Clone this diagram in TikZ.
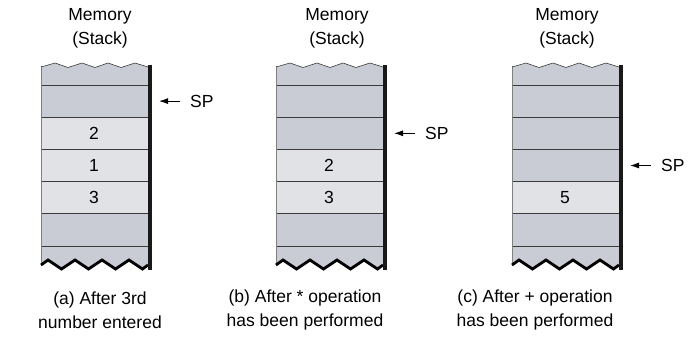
\documentclass[tikz,border=0pt]{standalone}
\usepackage{fontspec}
\setmainfont{Liberation Sans}
\usetikzlibrary{arrows.meta}
\definecolor{cellgray}{HTML}{C9CCD4}
\definecolor{celllight}{HTML}{E1E2E6}
\definecolor{rowline}{HTML}{3A3A3A}
\begin{document}
\begin{tikzpicture}[x=1pt,y=-1pt,font=\fontsize{17.5}{24}\selectfont,
    rowrule/.style={rowline,line width=1pt},
    topwave/.style={rowline,line width=0.6pt},
    botwave/.style={black,line width=2.8pt,line join=miter},
    spine/.style={black!90,line width=3.6pt},
    leftedge/.style={gray,line width=0.9pt},
    splabel/.style={anchor=west,inner xsep=10pt,inner ysep=0pt},
    sparrow/.style={-{Latex[length=9pt,width=6pt]},line width=1pt}]
  \useasboundingbox (0,0) rectangle (696,338);
  % stack bodies
  \foreach \s/\L in {a/41,b/276,c/512} {
    \begin{scope}[shift={(\L,0)}]
      \fill[cellgray] (0,67) -- (14,63) -- (27,67.5) -- (41,63) -- (54,67.5) -- (67,63) -- (80,67.5) -- (94,63) -- (107,67)
        -- (107,265) -- (101.5,269) -- (88,260) -- (74.5,269) -- (61,260) -- (47.5,269) -- (34,260) -- (20.5,269) -- (7,260) -- (0,265) -- cycle;
    \end{scope}
  }
  % filled cells
  \foreach \s/\L/\r/\v in {a/41/2/2,a/41/3/1,a/41/4/3,b/276/3/2,b/276/4/3,c/512/4/5} {
    \fill[celllight] (\L,{85+(\r-1)*32.2}) rectangle ({\L+107},{85+\r*32.2});
    \node (\s-\r) at ({\L+53},{85+(\r-0.5)*32.2}) {\v};
  }
  % rules, edges, stack pointer
  \foreach \s/\L/\sp in {a/41/1,b/276/2,c/512/3} {
    \begin{scope}[shift={(\L,0)}]
      \foreach \y in {85,117.2,149.4,181.6,213.8,246} \draw[rowrule] (0,\y) -- (107,\y);
      \draw[leftedge] (0,66) -- (0,265.5);
      \draw[topwave] (0,67) -- (14,63) -- (27,67.5) -- (41,63) -- (54,67.5) -- (67,63) -- (80,67.5) -- (94,63) -- (107,67);
      \draw[botwave] (0,265) -- (7,260) -- (20.5,269) -- (34,260) -- (47.5,269) -- (61,260) -- (74.5,269) -- (88,260) -- (101.5,269) -- (107,265);
      \draw[spine] (109,65) -- (109,270);
      \coordinate (tip-\s) at (118,{85+(\sp-0.5)*32.2});
      \node[splabel] (sp-\s) at (139,{85+(\sp-0.5)*32.2}) {SP};
      \draw[sparrow] (sp-\s.west) -- (tip-\s);
    \end{scope}
  }
  % titles and captions
  \foreach \s/\tx/\cx/\capt in {a/100/100/{(a) After 3rd\\number entered},
      b/337/305/{(b) After * operation\\has been performed},
      c/567/535/{(c) After + operation\\has been performed}} {
    \node[align=center] (title-\s) at (\tx,28) {Memory\\(Stack)};
    \node[align=center] (caption-\s) at (\cx,310) {\capt};
  }
\end{tikzpicture}
\end{document}
